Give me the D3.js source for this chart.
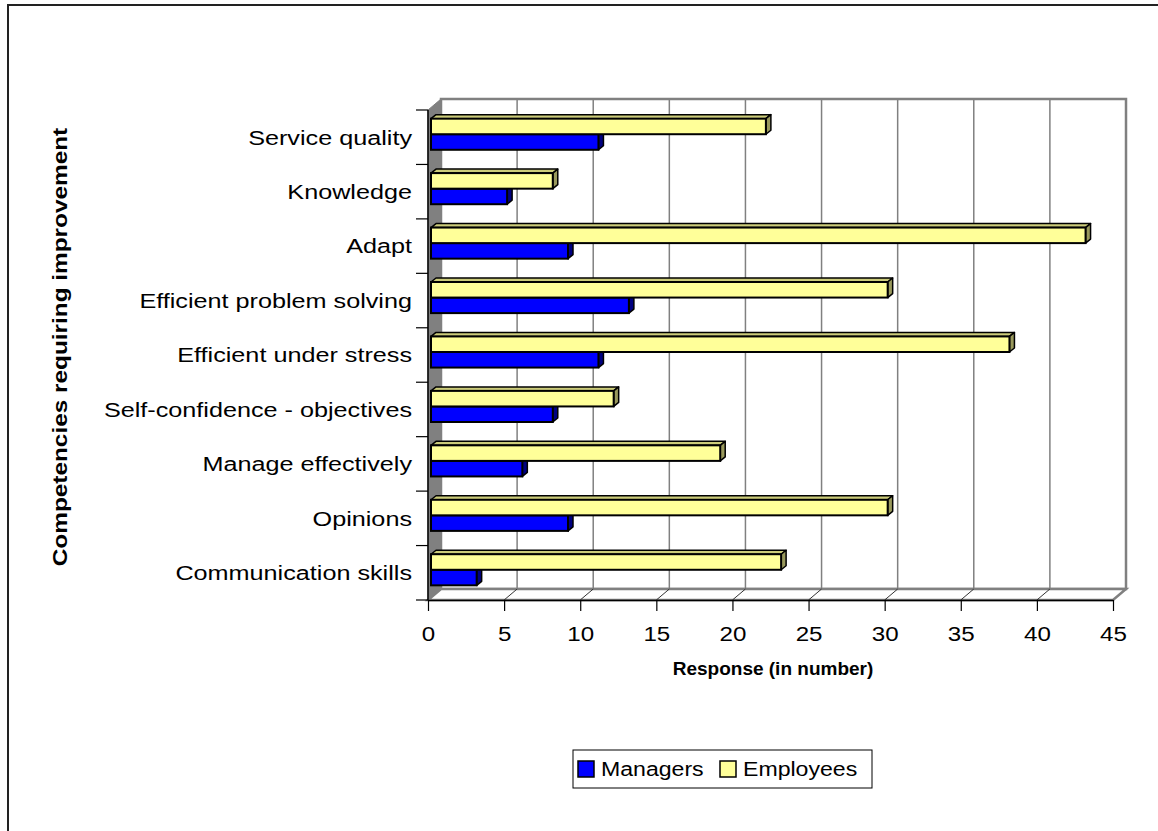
<!DOCTYPE html>
<html>
<head>
<meta charset="utf-8">
<script src="https://cdn.jsdelivr.net/npm/d3@7"></script>
<style>
  body { margin: 0; background: #fff; }
  svg { display: block; font-family: "Liberation Sans", Arial, sans-serif; }
</style>
</head>
<body>
<div id="chart"></div>
<script>
// data, bottom to top as in the picture
const categories = ["Communication skills", "Opinions", "Manage effectively",
  "Self-confidence - objectives", "Efficient under stress", "Efficient problem solving",
  "Adapt", "Knowledge", "Service quality"];
const managers = [3, 9, 6, 8, 11, 13, 9, 5, 11];
const employees = [23, 30, 19, 12, 38, 30, 43, 8, 22];
const seriesNames = ["Employees", "Managers"];
const xTicks = [0, 5, 10, 15, 20, 25, 30, 35, 40, 45];

const W = 1158, H = 831;
const depthX = 13, depthY = 11;     // wall depth
const barDx = 5, barDy = 4;         // bar depth
const barOffX = 3, barOffY = 3;     // bar position inside the depth

const colors = {
  Managers: { front: "#0000ff", top: "#0000b0", side: "#000080" },
  Employees: { front: "#ffff99", top: "#cccc7a", side: "#99995c" }
};

const svg = d3.select("#chart").append("svg")
  .attr("width", W)
  .attr("height", H);

// outer frame
svg.append("rect")
  .attr("x", 8).attr("y", 5)
  .attr("width", W).attr("height", H)
  .attr("fill", "none").attr("stroke", "#222").attr("stroke-width", 2);

const x = d3.scaleLinear().domain([0, 45]).range([428, 1113]);
const y = d3.scaleBand().domain(categories.slice().reverse()).range([110, 600]);
const sub = d3.scaleBand().domain(seriesNames).range([0, y.bandwidth()])
  .paddingInner(0).paddingOuter(0.75);

const x0 = x(0), x1 = x(45), yTop = 110, yBot = 600;

// left wall
svg.append("polygon")
  .attr("points", [[x0, yTop], [x0 + depthX, yTop - depthY], [x0 + depthX, yBot - depthY], [x0, yBot]].join(" "))
  .attr("fill", "#808080").attr("stroke", "#808080");

// back wall
svg.append("rect")
  .attr("x", x0 + depthX).attr("y", yTop - depthY)
  .attr("width", x1 - x0).attr("height", yBot - yTop)
  .attr("fill", "#fff").attr("stroke", "#808080").attr("stroke-width", 2.5);

// floor
svg.append("polygon")
  .attr("points", [[x0, yBot], [x0 + depthX, yBot - depthY], [x1 + depthX, yBot - depthY], [x1, yBot]].join(" "))
  .attr("fill", "#fff").attr("stroke", "#808080").attr("stroke-width", 2.5);

// gridlines on back wall and floor
const inner = xTicks.filter(t => t > 0 && t < 45);
svg.append("g").selectAll("line").data(inner).join("line")
  .attr("x1", d => x(d) + depthX).attr("x2", d => x(d) + depthX)
  .attr("y1", yTop - depthY).attr("y2", yBot - depthY)
  .attr("stroke", "#808080").attr("stroke-width", 1.5);
svg.append("g").selectAll("line").data(inner).join("line")
  .attr("x1", d => x(d)).attr("x2", d => x(d) + depthX)
  .attr("y1", yBot).attr("y2", yBot - depthY)
  .attr("stroke", "#333").attr("stroke-width", 1);

// x axis
const xAxis = svg.append("g")
  .attr("transform", `translate(0,${yBot})`)
  .call(d3.axisBottom(x).tickValues(xTicks).tickSize(11).tickPadding(15).tickSizeOuter(0));
xAxis.select(".domain").attr("stroke", "#000").attr("stroke-width", 1.5);
xAxis.selectAll(".tick line").attr("stroke", "#000").attr("stroke-width", 1.2);
xAxis.selectAll(".tick text")
  .attr("fill", "#000")
  .style("font-size", "21px")
  .attr("transform", "scale(1.15,1)");

// y axis: line + boundary ticks + labels
svg.append("line")
  .attr("x1", x0).attr("x2", x0).attr("y1", yTop).attr("y2", yBot)
  .attr("stroke", "#000").attr("stroke-width", 1.5);
const bounds = categories.map(c => y(c)).concat([yBot]);
svg.append("g").selectAll("line").data(bounds).join("line")
  .attr("x1", x0 - 12).attr("x2", x0)
  .attr("y1", d => d).attr("y2", d => d)
  .attr("stroke", "#000").attr("stroke-width", 1.2);
svg.append("g").selectAll("text").data(categories).join("text")
  .attr("transform", d => `translate(412,${y(d) + y.bandwidth() / 2}) scale(1.2,1)`)
  .attr("text-anchor", "end")
  .attr("dy", "0.35em")
  .style("font-size", "21px")
  .text(d => d);

// bars
const rows = [];
categories.forEach((c, i) => {
  rows.push({ cat: c, s: "Managers", v: managers[i] });
  rows.push({ cat: c, s: "Employees", v: employees[i] });
});

const bars = svg.append("g").selectAll("g").data(rows).join("g");
bars.each(function (d) {
  const g = d3.select(this);
  const bx0 = x(0) + barOffX;
  const bx1 = x(d.v) + barOffX;
  const by0 = y(d.cat) + sub(d.s) - barOffY;
  const by1 = by0 + sub.bandwidth();
  const col = colors[d.s];
  g.append("polygon")
    .attr("points", [[bx0, by0], [bx0 + barDx, by0 - barDy], [bx1 + barDx, by0 - barDy], [bx1, by0]].join(" "))
    .attr("fill", col.top).attr("stroke", "#000").attr("stroke-width", 1.5).attr("stroke-linejoin", "round");
  g.append("polygon")
    .attr("points", [[bx1, by0], [bx1 + barDx, by0 - barDy], [bx1 + barDx, by1 - barDy], [bx1, by1]].join(" "))
    .attr("fill", col.side).attr("stroke", "#000").attr("stroke-width", 1.5).attr("stroke-linejoin", "round");
  g.append("rect")
    .attr("x", bx0).attr("y", by0)
    .attr("width", bx1 - bx0).attr("height", by1 - by0)
    .attr("fill", col.front).attr("stroke", "#000").attr("stroke-width", 2);
});

// axis titles
svg.append("text")
  .attr("x", 773).attr("y", 675)
  .attr("text-anchor", "middle")
  .style("font-size", "19px").style("font-weight", "bold")
  .text("Response (in number)");

svg.append("text")
  .attr("transform", "translate(67,347) rotate(-90) scale(1.16,1)")
  .attr("text-anchor", "middle")
  .style("font-size", "21px").style("font-weight", "bold")
  .text("Competencies requiring improvement");

// legend
const legend = svg.append("g").attr("transform", "translate(573,750)");
legend.append("rect")
  .attr("width", 299).attr("height", 38)
  .attr("fill", "#fff").attr("stroke", "#000").attr("stroke-width", 1);
const legendItems = [
  { name: "Managers", x: 5 },
  { name: "Employees", x: 147 }
];
const li = legend.selectAll("g.item").data(legendItems).join("g")
  .attr("class", "item")
  .attr("transform", d => `translate(${d.x},11)`);
li.append("rect")
  .attr("width", 16).attr("height", 16)
  .attr("fill", d => colors[d.name].front)
  .attr("stroke", "#000").attr("stroke-width", 1.5);
li.append("text")
  .attr("transform", "translate(23,8) scale(1.1,1)")
  .attr("dy", "0.35em")
  .style("font-size", "21px")
  .text(d => d.name);
</script>
</body>
</html>
